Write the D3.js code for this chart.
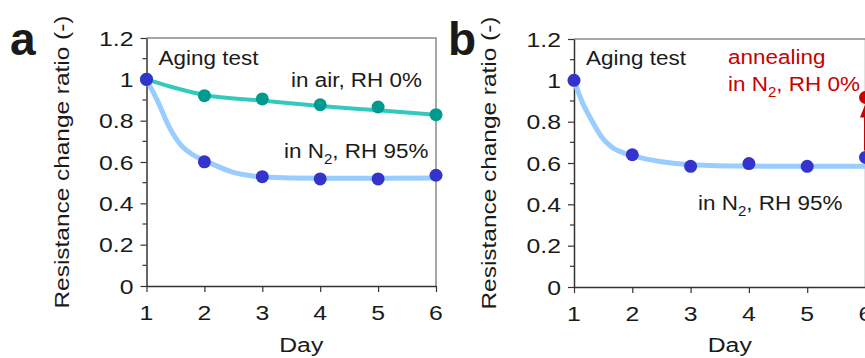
<!DOCTYPE html>
<html lang="en">
  <head>
    <meta charset="UTF-8" />
    <title>Aging test</title>
    <style>
      body { margin: 0; background: #fff; }
      svg text { font-family: "Liberation Sans", Arial, sans-serif; fill: #1a1a1a; }
    </style>
  </head>
  <body>
    <svg id="chart" width="865" height="358"></svg>

    <script src="https://cdn.jsdelivr.net/npm/d3@7"></script>
    <script>
      // data
      const days = [1, 2, 3, 4, 5, 6];
      const yTicks = [0, 0.2, 0.4, 0.6, 0.8, 1, 1.2];
      const yTickLabels = ["0", "0.2", "0.4", "0.6", "0.8", "1", "1.2"];

      // panel a
      const airRH0 = [1, 0.921, 0.905, 0.877, 0.866, 0.829];
      const n2RH95a = [1, 0.601, 0.529, 0.518, 0.518, 0.536];
      // fitted trend lines (day, value)
      const airFit = [[1, 1], [1.5, 0.958], [2, 0.924], [3, 0.897], [4, 0.871], [5, 0.85], [6, 0.828]];
      const n2FitA = [[1, 1], [1.2, 0.89], [1.4, 0.765], [1.6, 0.68], [1.8, 0.635], [2, 0.608], [2.5, 0.55], [3, 0.528], [4, 0.521], [5, 0.521], [6, 0.523]];

      // panel b
      const n2RH95b = [1, 0.64, 0.584, 0.597, 0.584, 0.627];
      const n2FitB = [[1, 1], [1.15, 0.889], [1.3, 0.808], [1.47, 0.727], [1.64, 0.679], [1.87, 0.647], [2, 0.636], [2.5, 0.606], [3, 0.592], [4, 0.585], [5, 0.584], [6, 0.584]];
      const annealed = { day: 6, from: 0.627, to: 0.917 };

      const teal = "#009a8e", tealLine = "#33c9bd";
      const blue = "#3434cc", blueLine = "#99ccff";
      const red = "#c80000";

      const svg = d3.select("#chart");

      // text with a little horizontal stretch, like the original
      function label(g, x, y, str, sx, anchor, color) {
        const t = g.append("text")
          .attr("transform", `translate(${x},${y}) scale(${sx},1)`)
          .attr("font-size", 21)
          .attr("text-anchor", anchor || "start");
        if (color) t.style("fill", color);
        return t.text(str);
      }

      // "in N2, ..." with subscript
      function n2label(g, x, y, rest, sx, anchor, color) {
        const t = label(g, x, y, "", sx, anchor, color);
        t.append("tspan").text("in N");
        t.append("tspan").attr("font-size", 14).attr("dy", 6).text("2");
        t.append("tspan").attr("dy", -6).text(rest);
        return t;
      }

      function panel(opt) {
        const g = svg.append("g");
        const x = d3.scaleLinear().domain([1, 6]).range([opt.left, opt.right]);
        const y = d3.scaleLinear().domain([0, 1.2]).range([opt.bottom, opt.top]);

        // frame (top/right gray)
        g.append("path")
          .attr("d", `M${opt.left},${opt.top}H${opt.right}V${opt.bottom}`)
          .attr("fill", "none").attr("stroke", "#8a8a8a").attr("stroke-width", 1.5);

        // minor y ticks
        g.selectAll(".minor").data(d3.range(0.1, 1.2, 0.2)).join("line")
          .attr("x1", opt.left - 4).attr("x2", opt.left)
          .attr("y1", d => y(d)).attr("y2", d => y(d))
          .attr("stroke", "#333").attr("stroke-width", 1.2);

        // y axis
        const ya = g.append("g").attr("transform", `translate(${opt.left},0)`)
          .call(d3.axisLeft(y).tickValues(yTicks).tickSize(6).tickSizeOuter(0).tickFormat(() => ""));
        ya.select(".domain").attr("stroke", "#333").attr("stroke-width", 1.5);
        ya.selectAll(".tick line").attr("stroke", "#333").attr("stroke-width", 1.2);
        yTicks.forEach((v, i) => {
          label(g, opt.left - 13, y(v) + 7.5, yTickLabels[i], 1.18, "end");
        });

        // x axis
        const xa = g.append("g").attr("transform", `translate(0,${opt.bottom})`)
          .call(d3.axisBottom(x).tickValues(days).tickSize(6).tickSizeOuter(0).tickFormat(() => ""));
        xa.select(".domain").attr("stroke", "#333").attr("stroke-width", 1.5);
        xa.selectAll(".tick line").attr("stroke", "#333").attr("stroke-width", 1.2);
        days.forEach(d => label(g, x(d), opt.bottom + 34, String(d), 1.18, "middle"));

        label(g, (opt.left + opt.right) / 2 + 10, 352, "Day", 1.18, "middle");

        // y title
        g.append("text")
          .attr("transform", `translate(${opt.left - 78},${(opt.top + opt.bottom) / 2}) rotate(-90)`)
          .attr("font-size", 21)
          .attr("text-anchor", "middle")
          .attr("textLength", 293).attr("lengthAdjust", "spacingAndGlyphs")
          .text("Resistance change ratio (-)");

        g.append("text")
          .attr("x", opt.letterX).attr("y", 55)
          .attr("font-size", 46).attr("font-weight", "bold")
          .text(opt.letter);

        const line = d3.line().x(d => x(d[0])).y(d => y(d[1])).curve(d3.curveMonotoneX);
        opt.series.forEach(s => {
          g.append("path").datum(s.fit).attr("d", line)
            .attr("fill", "none").attr("stroke", s.lineColor).attr("stroke-width", s.lw)
            .attr("stroke-linecap", "round");
        });
        opt.series.forEach(s => {
          g.selectAll(null).data(s.values).join("circle")
            .attr("cx", (d, i) => x(days[i])).attr("cy", d => y(d)).attr("r", 6.5)
            .attr("fill", s.color);
        });

        label(g, opt.left + 12, 65, "Aging test", 1.07);
        return { g, x, y };
      }

      // panel a
      const pa = panel({
        left: 146.5, right: 436, top: 38, bottom: 286, letter: "a", letterX: 10,
        series: [
          { values: airRH0, fit: airFit, color: teal, lineColor: tealLine, lw: 4 },
          { values: n2RH95a, fit: n2FitA, color: blue, lineColor: blueLine, lw: 5 }
        ]
      });
      label(pa.g, 422, 87, "in air, RH 0%", 1.07, "end");
      n2label(pa.g, 284, 158, ", RH 95%", 1.07);

      // panel b
      const pb = panel({
        left: 574, right: 865.5, top: 39, bottom: 287, letter: "b", letterX: 448,
        series: [
          { values: n2RH95b, fit: n2FitB, color: blue, lineColor: blueLine, lw: 5 }
        ]
      });
      n2label(pb.g, 698, 210, ", RH 95%", 1.07);
      label(pb.g, 728, 64, "annealing", 1.07, "start", red);
      n2label(pb.g, 728, 91, ", RH 0%", 1.07, "start", red);

      // annealing arrow
      const ax = pb.x(annealed.day);
      const yFrom = pb.y(annealed.from) - 7, yTip = pb.y(annealed.to) + 6;
      pb.g.append("line")
        .attr("x1", ax).attr("x2", ax).attr("y1", yFrom).attr("y2", yTip + 12)
        .attr("stroke", red).attr("stroke-width", 3);
      pb.g.append("path")
        .attr("d", `M${ax},${yTip}L${ax - 5.5},${yTip + 14}L${ax + 5.5},${yTip + 14}Z`)
        .attr("fill", red);
      pb.g.append("circle")
        .attr("cx", ax).attr("cy", pb.y(annealed.to)).attr("r", 6.5).attr("fill", red);
    </script>
  </body>
</html>
